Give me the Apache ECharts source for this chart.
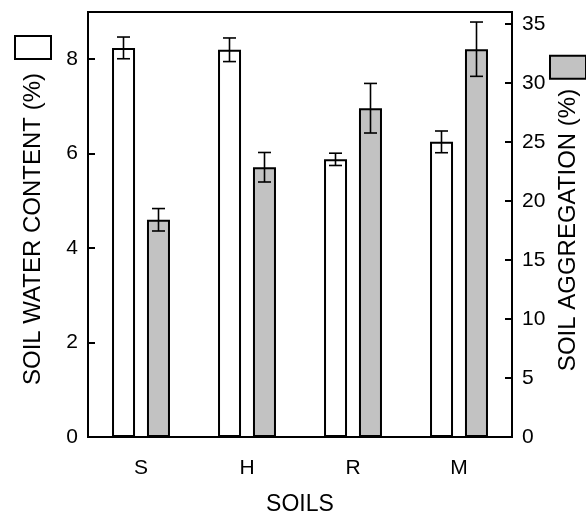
<!DOCTYPE html>
<html>
<head>
<meta charset="utf-8">
<script src="https://cdn.jsdelivr.net/npm/echarts@6/dist/echarts.min.js"></script>
<style>
html,body{margin:0;padding:0;background:#fff;}
#chart{width:586px;height:515px;}
</style>
</head>
<body>
<div id="chart"></div>
<script>
const soils = ['S', 'H', 'R', 'M'];
const waterContent = [8.24, 8.2, 5.88, 6.25];
const waterError = [0.23, 0.25, 0.13, 0.23];
const aggregation = [18.4, 22.85, 27.85, 32.85];
const aggregationError = [0.95, 1.25, 2.1, 2.3];
const leftTicks = [0, 2, 4, 6, 8];
const rightTicks = [0, 5, 10, 15, 20, 25, 30, 35];

const FONT = '"Liberation Sans", Arial, sans-serif';
const GRAY = '#c2c2c2';
const BAR_W = 23;
const OFFSET = 17.5;

function errItems(vals, errs) {
  return vals.map((v, i) => [i, v, errs[i]]);
}

function errRenderer(offset) {
  return function (params, api) {
    const c = api.value(0), v = api.value(1), e = api.value(2);
    const x = api.coord([c, v])[0] + offset;
    const yHi = api.coord([c, v + e])[1];
    const yLo = api.coord([c, v - e])[1];
    const hw = 6.5;
    const st = { stroke: '#000', lineWidth: 1.6 };
    return {
      type: 'group',
      children: [
        { type: 'line', shape: { x1: x, y1: yHi, x2: x, y2: yLo }, style: st },
        { type: 'line', shape: { x1: x - hw, y1: yHi, x2: x + hw, y2: yHi }, style: st },
        { type: 'line', shape: { x1: x - hw, y1: yLo, x2: x + hw, y2: yLo }, style: st }
      ]
    };
  };
}

function nameRich(fill, gap, pad) {
  return {
    t: { fontFamily: FONT, fontSize: 24, color: '#000' },
    p: { width: pad, height: 1 },
    g: { width: gap, height: 1 },
    b: { width: 21, height: 34, backgroundColor: fill, borderColor: '#000', borderWidth: 2 }
  };
}

const chart = echarts.init(document.getElementById('chart'), null, { renderer: 'canvas' });
chart.setOption({
  animation: false,
  backgroundColor: '#fff',
  grid: {
    left: 88, right: 74, top: 12, bottom: 78,
    containLabel: false, outerBoundsMode: 'none',
    show: true, borderColor: '#000', borderWidth: 2, backgroundColor: 'transparent'
  },
  xAxis: {
    type: 'category',
    data: soils,
    name: 'SOILS',
    nameLocation: 'middle',
    nameGap: 56,
    nameMoveOverlap: false,
    nameTextStyle: { fontFamily: FONT, fontSize: 23, color: '#000' },
    axisLine: { show: true, lineStyle: { color: '#000', width: 2 } },
    axisTick: { show: false },
    axisLabel: { fontFamily: FONT, fontSize: 21, color: '#000', margin: 21 },
    splitLine: { show: false }
  },
  yAxis: [
    {
      type: 'value',
      min: 0, max: 9, interval: 2,
      position: 'left',
      name: '{p| }{t|SOIL WATER CONTENT (%)}{g| }{b| }',
      nameLocation: 'middle',
      nameRotate: 90,
      nameGap: 38,
      nameMoveOverlap: false,
      nameTextStyle: { rich: nameRich('#fff', 15, 27) },
      axisLine: { show: true, lineStyle: { color: '#000', width: 2 } },
      axisTick: { show: true, inside: true, length: 7, lineStyle: { color: '#000', width: 2 } },
      axisLabel: {
        fontFamily: FONT, fontSize: 21, color: '#000', margin: 10,
        formatter: v => leftTicks.includes(v) ? String(v) : ''
      },
      splitLine: { show: false }
    },
    {
      type: 'value',
      min: 0, max: 36, interval: 5,
      position: 'right',
      name: '{p| }{t|SOIL AGGREGATION (%)}{g| }{b| }',
      nameLocation: 'middle',
      nameRotate: 90,
      nameGap: 39,
      nameMoveOverlap: false,
      nameTextStyle: { rich: nameRich(GRAY, 11, 21) },
      axisLine: { show: true, lineStyle: { color: '#000', width: 2 } },
      axisTick: { show: true, inside: true, length: 7, lineStyle: { color: '#000', width: 2 } },
      axisLabel: {
        fontFamily: FONT, fontSize: 21, color: '#000', margin: 10,
        formatter: v => rightTicks.includes(v) ? String(v) : ''
      },
      splitLine: { show: false }
    }
  ],
  series: [
    {
      type: 'bar', name: 'water', yAxisIndex: 0,
      data: waterContent, barWidth: BAR_W, barGap: '52%',
      itemStyle: { color: '#fff', borderColor: '#000', borderWidth: 2 }
    },
    {
      type: 'bar', name: 'aggregation', yAxisIndex: 1,
      data: aggregation, barWidth: BAR_W, barGap: '52%',
      itemStyle: { color: GRAY, borderColor: '#000', borderWidth: 2 }
    },
    {
      type: 'custom', yAxisIndex: 0, z: 10,
      data: errItems(waterContent, waterError),
      renderItem: errRenderer(-OFFSET)
    },
    {
      type: 'custom', yAxisIndex: 1, z: 10,
      data: errItems(aggregation, aggregationError),
      renderItem: errRenderer(OFFSET)
    }
  ]
});
</script>
</body>
</html>
